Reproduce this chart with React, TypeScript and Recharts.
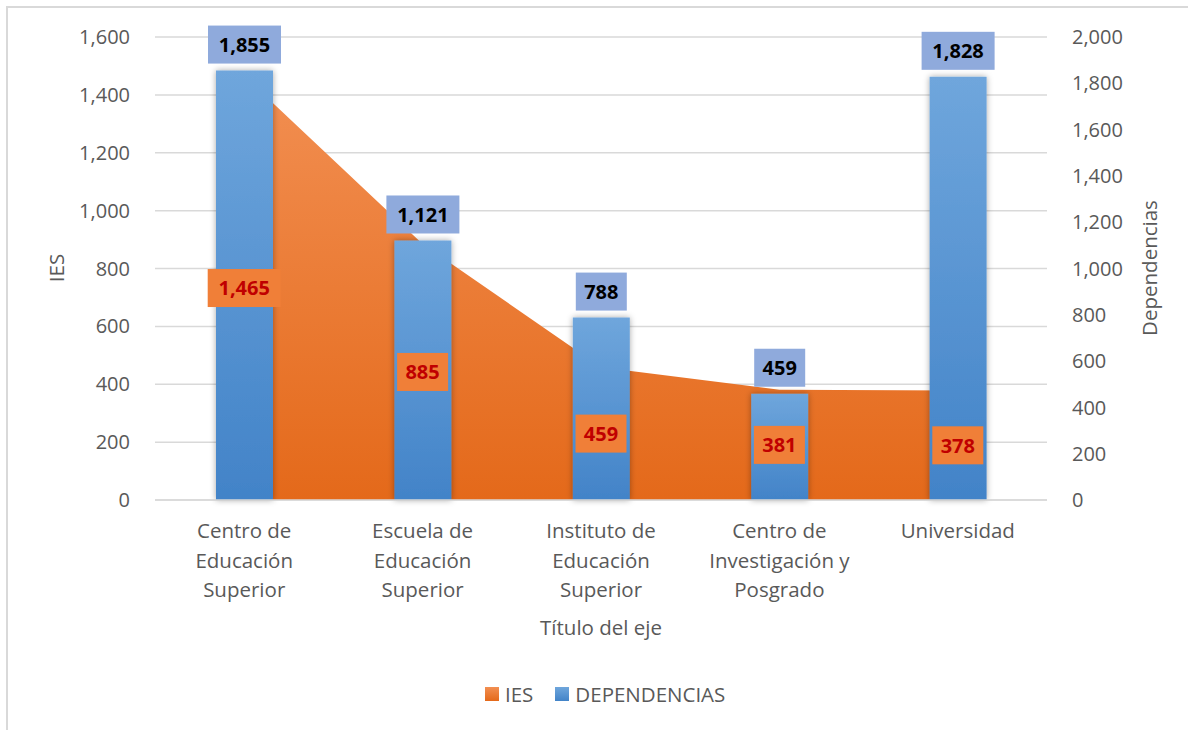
import React from 'react';
import {
  ComposedChart,
  Area,
  Bar,
  XAxis,
  YAxis,
  CartesianGrid,
  LabelList,
  Label,
} from 'recharts';

const categories = [
  'Centro de Educación Superior',
  'Escuela de Educación Superior',
  'Instituto de Educación Superior',
  'Centro de Investigación y Posgrado',
  'Universidad',
];
const iesValues = [1465, 885, 459, 381, 378];
const dependenciasValues = [1855, 1121, 788, 459, 1828];
const leftTicks = [0, 200, 400, 600, 800, 1000, 1200, 1400, 1600];
const rightTicks = [0, 200, 400, 600, 800, 1000, 1200, 1400, 1600, 1800, 2000];

const WIDTH = 1188;
const HEIGHT = 730;
const MARGIN = { top: 37, right: 41, left: 55, bottom: 170 };
const PLOT_BOTTOM = HEIGHT - MARGIN.bottom - 60;
const FONT = '"Open Sans", sans-serif';
const GREY = '#595959';
const TEXT_SIZE = 20.5;

const data = categories.map((name, i) => ({
  name,
  ies: iesValues[i],
  dependencias: dependenciasValues[i],
}));

const fmt = (v: number) => v.toLocaleString('en-US');

function wrap(text: string, max = 15) {
  const words = text.split(' ');
  const lines: string[] = [];
  let cur = '';
  for (const w of words) {
    const next = cur ? cur + ' ' + w : w;
    if (next.length > max && cur) {
      lines.push(cur);
      cur = w;
    } else {
      cur = next;
    }
  }
  if (cur) lines.push(cur);
  return lines;
}

const CategoryTick = (props: any) => {
  const { x, y, payload } = props;
  const lines = wrap(payload.value);
  return (
    <text x={x} y={y} textAnchor="middle" fill={GREY} fontSize={TEXT_SIZE} fontFamily={FONT}>
      {lines.map((l, i) => (
        <tspan key={i} x={x} dy={i === 0 ? 30 : 29.5}>
          {l}
        </tspan>
      ))}
    </text>
  );
};

const BarValueLabel = (props: any) => {
  const { x, y, width, value } = props;
  const cx = x + width / 2;
  const text = fmt(value);
  const w = text.length * 11 + 18;
  const h = 38;
  const top = y - 7 - h;
  return (
    <g>
      <rect x={cx - w / 2} y={top} width={w} height={h} fill="#8FAADC" />
      <text
        x={cx}
        y={top + h / 2}
        dy="0.36em"
        textAnchor="middle"
        fontSize={20}
        fontWeight="bold"
        fontFamily={FONT}
        fill="#000"
      >
        {text}
      </text>
    </g>
  );
};

const AreaValueLabel = (props: any) => {
  const { x, y, value } = props;
  const cy = (y + PLOT_BOTTOM) / 2;
  const text = fmt(value);
  const w = text.length * 11 + 18;
  const h = 38;
  return (
    <g>
      <rect x={x - w / 2} y={cy - h / 2} width={w} height={h} fill="#F07F38" />
      <text
        x={x}
        y={cy}
        dy="0.36em"
        textAnchor="middle"
        fontSize={20}
        fontWeight="bold"
        fontFamily={FONT}
        fill="#C00000"
      >
        {text}
      </text>
    </g>
  );
};

export default function App() {
  return (
    <div style={{ position: 'absolute', left: 0, top: 0, width: WIDTH, height: HEIGHT, background: '#fff', overflow: 'hidden' }}>
      <div
        style={{
          position: 'absolute',
          left: 6,
          top: 6,
          width: WIDTH,
          height: HEIGHT,
          borderLeft: '2px solid #D9D9D9',
          borderTop: '2px solid #D9D9D9',
        }}
      />
      <div style={{ position: 'absolute', left: 0, top: 0 }}>
        <ComposedChart width={WIDTH} height={HEIGHT} data={data} margin={MARGIN}>
          <defs>
            <linearGradient id="gradBar" x1="0" y1="0" x2="0" y2="1">
              <stop offset="0%" stopColor="#6FA6DC" />
              <stop offset="100%" stopColor="#4283C8" />
            </linearGradient>
            <linearGradient id="gradArea" x1="0" y1="0" x2="0" y2="1">
              <stop offset="0%" stopColor="#F28F52" />
              <stop offset="100%" stopColor="#E4691A" />
            </linearGradient>
            <filter id="shadow" x="-30%" y="-10%" width="160%" height="120%">
              <feDropShadow dx="0" dy="0" stdDeviation="3" floodColor="#000" floodOpacity="0.35" />
            </filter>
          </defs>
          <CartesianGrid vertical={false} stroke="#D9D9D9" strokeWidth={1.5} yAxisId="left" />
          <XAxis
            dataKey="name"
            xAxisId={0}
            height={60}
            tick={<CategoryTick />}
            tickLine={false}
            axisLine={{ stroke: '#D9D9D9', strokeWidth: 1.5 }}
            interval={0}
          >
            <Label
              content={() => (
                <text x={601} y={628} dy="0.36em" textAnchor="middle" fontSize={TEXT_SIZE} fontFamily={FONT} fill={GREY}>
                  Título del eje
                </text>
              )}
            />
          </XAxis>
          <YAxis
            yAxisId="left"
            orientation="left"
            width={100}
            domain={[0, 1600]}
            ticks={leftTicks}
            tickFormatter={fmt}
            tickLine={false}
            axisLine={false}
            tickMargin={19}
            tick={{ fill: GREY, fontSize: 20, fontFamily: FONT }}
          >
            <Label
              content={() => (
                <text
                  x={57}
                  y={268}
                  dy="0.36em"
                  textAnchor="middle"
                  fontSize={TEXT_SIZE}
                  fontFamily={FONT}
                  fill={GREY}
                  transform="rotate(-90 57 268)"
                >
                  IES
                </text>
              )}
            />
          </YAxis>
          <YAxis
            yAxisId="right"
            orientation="right"
            width={100}
            domain={[0, 2000]}
            ticks={rightTicks}
            tickFormatter={fmt}
            tickLine={false}
            axisLine={false}
            tickMargin={19}
            tick={{ fill: GREY, fontSize: 20, fontFamily: FONT, textAnchor: 'start' }}
          >
            <Label
              content={() => (
                <text
                  x={1150}
                  y={268}
                  dy="0.36em"
                  textAnchor="middle"
                  fontSize={TEXT_SIZE}
                  fontFamily={FONT}
                  fill={GREY}
                  transform="rotate(-90 1150 268)"
                >
                  Dependencias
                </text>
              )}
            />
          </YAxis>
          <Area
            yAxisId="left"
            dataKey="ies"
            type="linear"
            stroke="none"
            fill="url(#gradArea)"
            fillOpacity={1}
            isAnimationActive={false}
            activeDot={false}
            dot={false}
          />
          <Bar
            yAxisId="right"
            dataKey="dependencias"
            barSize={57}
            fill="url(#gradBar)"
            filter="url(#shadow)"
            isAnimationActive={false}
          >
            <LabelList dataKey="dependencias" content={<BarValueLabel />} />
          </Bar>
          <Area
            yAxisId="left"
            dataKey="ies"
            type="linear"
            stroke="none"
            fill="none"
            legendType="none"
            isAnimationActive={false}
            activeDot={false}
            dot={false}
          >
            <LabelList dataKey="ies" content={<AreaValueLabel />} />
          </Area>
        </ComposedChart>
      </div>
      <div
        style={{
          position: 'absolute',
          top: 680,
          left: 485,
          display: 'flex',
          alignItems: 'center',
          fontFamily: FONT,
          fontSize: TEXT_SIZE,
          color: GREY,
          whiteSpace: 'nowrap',
        }}
      >
        <span style={{ width: 14, height: 14, background: 'linear-gradient(#F28F52, #E4691A)', marginRight: 6 }} />
        <span style={{ marginRight: 22 }}>IES</span>
        <span style={{ width: 14, height: 14, background: 'linear-gradient(#6FA6DC, #4283C8)', marginRight: 6 }} />
        <span>DEPENDENCIAS</span>
      </div>
    </div>
  );
}
